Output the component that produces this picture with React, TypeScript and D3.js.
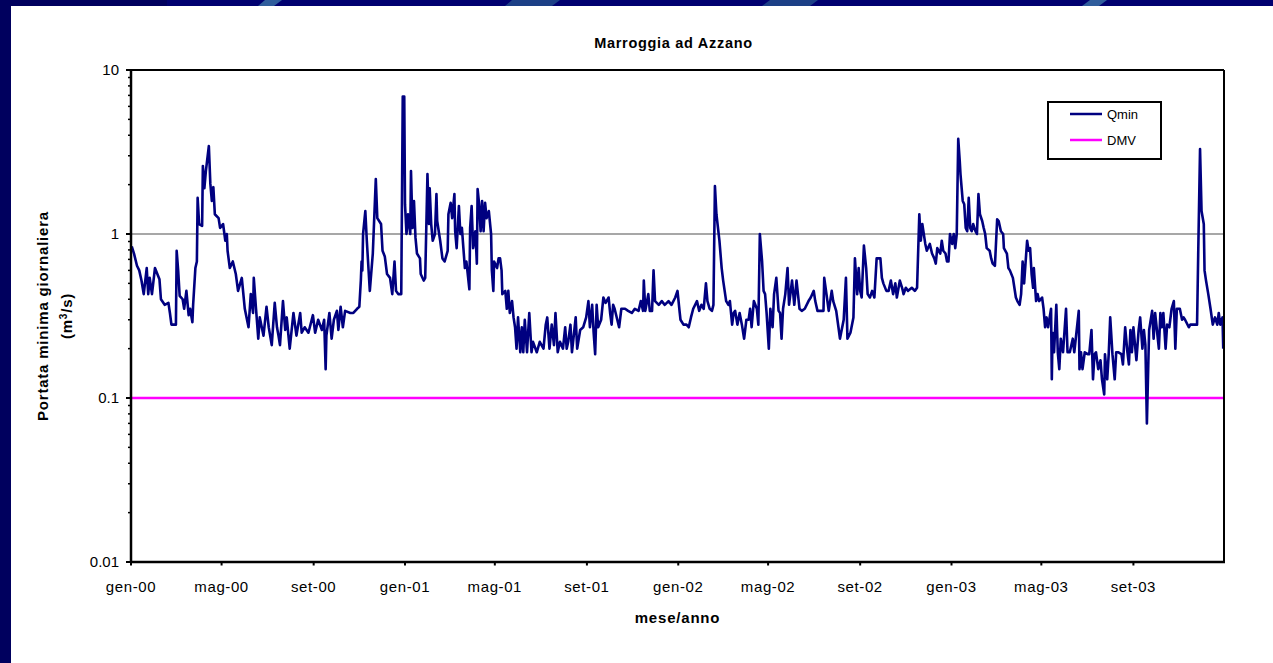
import React from 'react';
import * as d3 from 'd3';

// Qmin daily minimum flow (m3/s): [day offset from 2000-01-01, value]
const qmin2000: [number, number][] = [
  [1,0.84],[4,0.76],[8,0.64],[11,0.6],[14,0.52],[17,0.43],[21,0.62],[23,0.43],[25,0.54],[28,0.43],[32,0.62],[38,0.53],[40,0.4],[45,0.37],[50,0.38],[52,0.33],[54,0.28],[60,0.28],[61,0.79],[63,0.6],[65,0.42],[69,0.4],[71,0.35],[74,0.45],[77,0.32],[79,0.35],[82,0.29],[83,0.37],[86,0.62],[88,0.68],[89,1.66],[91,1.15],[95,1.12],[96,2.6],[98,1.9],[100,2.42],[104,3.44],[106,2.02],[108,1.59],[110,1.93],[112,1.32],[117,1.25],[119,1.09],[123,1.15],[126,0.91],[128,1.0],[129,0.79],[132,0.62],[136,0.68],[140,0.57],[143,0.45],[148,0.54],[152,0.35],[157,0.27],[160,0.43],[163,0.33],[164,0.54],[167,0.35],[170,0.23],[172,0.31],[177,0.24],[181,0.36],[184,0.27],[188,0.21],[192,0.38],[195,0.27],[197,0.24],[199,0.21],[203,0.39],[206,0.26],[208,0.31],[212,0.2],[217,0.33],[221,0.24],[226,0.33],[228,0.25],[232,0.27],[237,0.25],[243,0.32],[246,0.25],[250,0.3],[255,0.26],[258,0.3],[260,0.15],[261,0.24],[265,0.33],[268,0.23],[271,0.3],[275,0.34],[277,0.26],[280,0.36],[283,0.27],[286,0.34],[293,0.33],[297,0.33],[302,0.35],[305,0.36],[307,0.52],[308,0.68],[309,0.6],[310,1.0],[313,1.38],[315,0.91],[319,0.45],[323,0.76],[327,2.16],[329,1.25],[334,1.15],[336,0.79],[339,0.73],[342,0.57],[346,0.54],[349,0.43],[352,0.68],[354,0.45],[357,0.43],[361,0.43],[363,6.9],[365,6.9]
];
const qmin2001: [number, number][] = [
  [366,1.52],[368,1.0],[370,1.32],[373,1.0],[374,2.42],[376,1.09],[378,1.59],[380,0.95],[382,0.76],[386,0.71],[387,0.57],[391,0.52],[393,0.54],[396,2.32],[398,1.15],[399,1.9],[401,1.15],[403,0.91],[406,1.0],[408,1.75],[409,1.2],[413,0.91],[416,0.71],[419,0.68],[423,0.79],[424,1.32],[427,1.55],[429,1.25],[432,1.75],[433,1.04],[435,0.82],[438,1.48],[440,1.0],[442,1.09],[444,0.82],[446,0.62],[448,0.68],[452,0.46],[453,1.09],[455,1.48],[457,0.82],[460,1.04],[462,0.66],[463,1.88],[465,1.52],[467,1.04],[469,1.59],[471,1.04],[473,1.55],[475,1.25],[478,1.38],[481,1.0],[482,0.6],[484,0.45],[485,0.68],[489,0.62],[491,0.71],[493,0.71],[495,0.6],[496,0.43],[500,0.45],[502,0.35],[504,0.45],[506,0.33],[509,0.39],[511,0.31],[513,0.27],[515,0.2],[517,0.31],[520,0.19],[522,0.27],[524,0.19],[526,0.3],[529,0.19],[532,0.33],[535,0.19],[537,0.22],[542,0.19],[546,0.22],[551,0.2],[554,0.28],[556,0.31],[559,0.2],[562,0.28],[565,0.21],[567,0.33],[570,0.19],[573,0.22],[577,0.2],[580,0.27],[582,0.2],[584,0.22],[587,0.28],[589,0.19],[591,0.23],[594,0.31],[596,0.2],[600,0.26],[604,0.27],[608,0.31],[611,0.39],[613,0.27],[616,0.37],[618,0.25],[620,0.185],[622,0.37],[624,0.27],[628,0.3],[631,0.41],[634,0.38],[638,0.41],[640,0.33],[642,0.28],[644,0.37],[646,0.35],[652,0.27],[655,0.35],[660,0.35],[664,0.34],[669,0.33],[673,0.35],[678,0.34],[681,0.39],[684,0.34],[685,0.52],[687,0.34],[691,0.43],[693,0.34],[696,0.34],[698,0.6],[700,0.39],[705,0.37],[709,0.39],[713,0.37],[718,0.39],[722,0.37],[727,0.41],[730,0.45]
];
const qmin2002: [number, number][] = [
  [733,0.33],[734,0.3],[738,0.28],[742,0.28],[745,0.27],[748,0.31],[751,0.35],[756,0.39],[759,0.34],[762,0.37],[765,0.35],[768,0.5],[770,0.39],[773,0.35],[776,0.34],[778,0.37],[780,1.96],[782,1.32],[786,0.91],[789,0.62],[791,0.52],[795,0.39],[798,0.37],[800,0.39],[803,0.28],[805,0.33],[807,0.34],[810,0.28],[813,0.33],[816,0.28],[819,0.23],[822,0.3],[825,0.3],[827,0.35],[829,0.27],[832,0.39],[836,0.35],[838,0.28],[840,1.0],[843,0.68],[845,0.45],[847,0.43],[849,0.33],[852,0.2],[854,0.35],[857,0.27],[859,0.43],[862,0.54],[865,0.34],[867,0.33],[869,0.23],[871,0.35],[874,0.43],[877,0.62],[879,0.37],[883,0.52],[886,0.37],[889,0.52],[893,0.35],[896,0.34],[900,0.35],[905,0.39],[908,0.41],[912,0.45],[914,0.39],[917,0.34],[920,0.34],[925,0.34],[926,0.54],[929,0.43],[932,0.34],[936,0.45],[938,0.39],[942,0.34],[945,0.27],[947,0.23],[952,0.3],[955,0.54],[957,0.23],[961,0.25],[965,0.31],[967,0.71],[970,0.43],[972,0.62],[974,0.45],[976,0.41],[979,0.85],[982,0.62],[984,0.43],[987,0.41],[990,0.45],[993,0.41],[996,0.71],[1001,0.71],[1003,0.54],[1005,0.5],[1009,0.45],[1012,0.45],[1015,0.52],[1018,0.43],[1021,0.5],[1023,0.41],[1027,0.52],[1030,0.47],[1032,0.43],[1035,0.47],[1038,0.45],[1043,0.47],[1047,0.45],[1050,0.47],[1053,1.32],[1055,0.91],[1057,1.15],[1061,0.87],[1063,0.79],[1067,0.87],[1070,0.76],[1073,0.71],[1075,0.66],[1077,0.82],[1081,0.76],[1083,0.91],[1085,0.79],[1088,0.76],[1090,0.68],[1092,0.68],[1094,1.0]
];
const qmin2003: [number, number][] = [
  [1097,0.87],[1099,1.0],[1101,0.82],[1103,1.0],[1105,3.8],[1107,2.79],[1108,2.32],[1111,1.59],[1113,1.52],[1115,1.09],[1117,1.04],[1119,1.66],[1121,1.09],[1123,1.04],[1125,1.15],[1128,1.04],[1130,1.0],[1132,1.75],[1134,1.32],[1137,1.2],[1139,1.09],[1141,1.0],[1143,0.82],[1147,0.79],[1149,0.71],[1151,0.66],[1154,0.64],[1157,1.23],[1159,1.2],[1162,1.04],[1165,1.0],[1166,0.82],[1170,0.76],[1172,0.62],[1174,0.6],[1178,0.54],[1180,0.47],[1182,0.41],[1184,0.39],[1187,0.37],[1189,0.43],[1191,0.68],[1193,0.5],[1197,0.91],[1199,0.79],[1201,0.82],[1203,0.57],[1205,0.47],[1206,0.62],[1209,0.39],[1211,0.43],[1213,0.39],[1217,0.41],[1219,0.35],[1221,0.27],[1223,0.31],[1225,0.27],[1229,0.35],[1230,0.13],[1231,0.25],[1233,0.19],[1236,0.37],[1238,0.19],[1240,0.15],[1242,0.23],[1245,0.19],[1249,0.35],[1251,0.19],[1254,0.19],[1258,0.23],[1260,0.19],[1262,0.23],[1266,0.34],[1267,0.15],[1269,0.19],[1271,0.15],[1274,0.19],[1278,0.185],[1280,0.185],[1283,0.26],[1285,0.13],[1287,0.185],[1289,0.19],[1292,0.15],[1295,0.17],[1297,0.13],[1300,0.105],[1301,0.185],[1304,0.13],[1306,0.185],[1308,0.31],[1311,0.185],[1314,0.13],[1316,0.19],[1319,0.19],[1323,0.185],[1325,0.16],[1328,0.27],[1331,0.19],[1333,0.16],[1335,0.26],[1337,0.19],[1339,0.27],[1343,0.17],[1346,0.26],[1348,0.31],[1351,0.2],[1353,0.26],[1355,0.21],[1357,0.07],[1359,0.17],[1360,0.26],[1364,0.34],[1366,0.23],[1368,0.33],[1370,0.27],[1373,0.2],[1375,0.33],[1377,0.27],[1379,0.33],[1382,0.2],[1384,0.28],[1387,0.27],[1390,0.35],[1393,0.39],[1395,0.2],[1397,0.35],[1401,0.35],[1404,0.3],[1406,0.31],[1408,0.3],[1413,0.27],[1415,0.28],[1419,0.28],[1424,0.28],[1426,1.0],[1428,3.3],[1430,1.38],[1433,1.15],[1434,0.6],[1436,0.52],[1439,0.43],[1442,0.35],[1445,0.28],[1448,0.31],[1451,0.28],[1453,0.33],[1455,0.28],[1458,0.31],[1459,0.2]
];

const dmvValue = 0.1;
const seriesNames = ['Qmin', 'DMV'];
const tickLabels = ['gen-00','mag-00','set-00','gen-01','mag-01','set-01','gen-02','mag-02','set-02','gen-03','mag-03','set-03'];
const tickMonthOffsets = [0,4,8,12,16,20,24,28,32,36,40,44];
const yTickValues = [0.01, 0.1, 1, 10];
const yTickLabels = ['0.01', '0.1', '1', '10'];
const gridValues = [1];

const FONT = '"Liberation Sans", Arial, sans-serif';
const NAVY = '#000080';
const MAGENTA = '#FF00FF';

export default function App() {
  const W = 1273, H = 663;
  const m = { left: 131, right: 1224, top: 70, bottom: 562 };
  const start = new Date(2000, 0, 1);
  const end = d3.timeDay.offset(start, 1460);
  const x = d3.scaleTime().domain([start, end]).range([m.left, m.right]);
  const y = d3.scaleLog().domain([0.01, 10]).range([m.bottom, m.top]);

  const data = [...qmin2000, ...qmin2001, ...qmin2002, ...qmin2003].map(([d, v]) => ({ date: d3.timeDay.offset(start, d), v }));
  const line = d3.line<{ date: Date; v: number }>().x(d => x(d.date)).y(d => y(d.v));

  const minorTicks: number[] = [];
  [0.01, 0.1, 1].forEach(dec => { for (let i = 2; i <= 9; i++) minorTicks.push(dec * i); });

  const xTicks = tickMonthOffsets.map(mo => d3.timeMonth.offset(start, mo));
  const cx = (m.left + m.right) / 2;
  const cy = (m.top + m.bottom) / 2;

  return (
    <svg width={W} height={H} style={{ display: 'block', position: 'absolute', left: 0, top: 0 }} fontFamily={FONT}>
      <style>{`body{margin:0}`}</style>
      {/* slide background */}
      <rect x={0} y={0} width={W} height={H} fill="#00005e" />
      <rect x={167} y={0} width={W - 167} height={6} fill="#000070" />
      <polygon points="258,6 265,0 282,0 274,6" fill="#2f5d9c" />
      <polygon points="505,6 512,0 560,0 552,6" fill="#1c3f86" />
      <polygon points="762,6 770,0 818,0 810,6" fill="#1c3f86" />
      <polygon points="1082,6 1090,0 1107,0 1099,6" fill="#2f5d9c" />
      <rect x={11} y={6} width={W - 11} height={H - 6} fill="#ffffff" />

      {/* title */}
      <text x={cx - 4} y={48} textAnchor="middle" fontSize={14.5} fontWeight="bold" letterSpacing={0.7}>Marroggia ad Azzano</text>

      {/* gridline */}
      {gridValues.map(g => (
        <line key={g} x1={m.left} x2={m.right} y1={y(g)} y2={y(g)} stroke="#8a8a8a" strokeWidth={1.5} />
      ))}

      {/* DMV */}
      <line x1={m.left} x2={m.right} y1={y(dmvValue)} y2={y(dmvValue)} stroke={MAGENTA} strokeWidth={2.5} />

      {/* Qmin */}
      <defs>
        <clipPath id="plotclip">
          <rect x={m.left} y={m.top} width={m.right - m.left} height={m.bottom - m.top} />
        </clipPath>
      </defs>
      <path d={line(data) || ''} fill="none" stroke={NAVY} strokeWidth={2.6} strokeLinejoin="round" clipPath="url(#plotclip)" />

      {/* frame */}
      <line x1={m.left} x2={m.right} y1={m.top} y2={m.top} stroke="#000" strokeWidth={2} />
      <line x1={m.right} x2={m.right} y1={m.top} y2={m.bottom} stroke="#000" strokeWidth={2} />
      <line x1={m.left} x2={m.left} y1={m.top - 1} y2={m.bottom + 1} stroke="#000" strokeWidth={2.5} />
      <line x1={m.left - 1} x2={m.right + 1} y1={m.bottom} y2={m.bottom} stroke="#000" strokeWidth={2.5} />

      {/* y axis ticks */}
      {yTickValues.map((v, i) => (
        <g key={v}>
          <line x1={m.left - 5} x2={m.left} y1={y(v)} y2={y(v)} stroke="#000" strokeWidth={2} />
          <text x={m.left - 12} y={y(v)} dy="0.35em" textAnchor="end" fontSize={15}>{yTickLabels[i]}</text>
        </g>
      ))}
      {minorTicks.map(v => (
        <line key={v} x1={m.left - 3} x2={m.left} y1={y(v)} y2={y(v)} stroke="#000" strokeWidth={1.5} />
      ))}

      {/* x axis ticks */}
      {xTicks.map((d, i) => (
        <g key={i}>
          <line x1={x(d)} x2={x(d)} y1={m.bottom} y2={m.bottom + 3.5} stroke="#000" strokeWidth={2} />
          <text x={x(d)} y={592} textAnchor="middle" fontSize={15} letterSpacing={0.6}>{tickLabels[i]}</text>
        </g>
      ))}

      {/* axis titles */}
      <text x={cx} y={623} textAnchor="middle" fontSize={15} fontWeight="bold" letterSpacing={0.8}>mese/anno</text>
      <text transform={`translate(48,${cy}) rotate(-90)`} textAnchor="middle" fontSize={15} fontWeight="bold" letterSpacing={0.8}>Portata minima giornaliera</text>
      <text transform={`translate(72,${cy}) rotate(-90)`} textAnchor="middle" fontSize={15} fontWeight="bold" letterSpacing={0.8}>
        (m<tspan dy={-5} fontSize={10}>3</tspan><tspan dy={5}>/s)</tspan>
      </text>

      {/* legend */}
      <rect x={1048} y={102} width={113} height={57} fill="#fff" stroke="#000" strokeWidth={2} />
      <line x1={1070} x2={1102} y1={114} y2={114} stroke={NAVY} strokeWidth={2.5} />
      <text x={1107} y={119} fontSize={13}>{seriesNames[0]}</text>
      <line x1={1070} x2={1102} y1={140} y2={140} stroke={MAGENTA} strokeWidth={2.5} />
      <text x={1107} y={145} fontSize={13}>{seriesNames[1]}</text>
    </svg>
  );
}
